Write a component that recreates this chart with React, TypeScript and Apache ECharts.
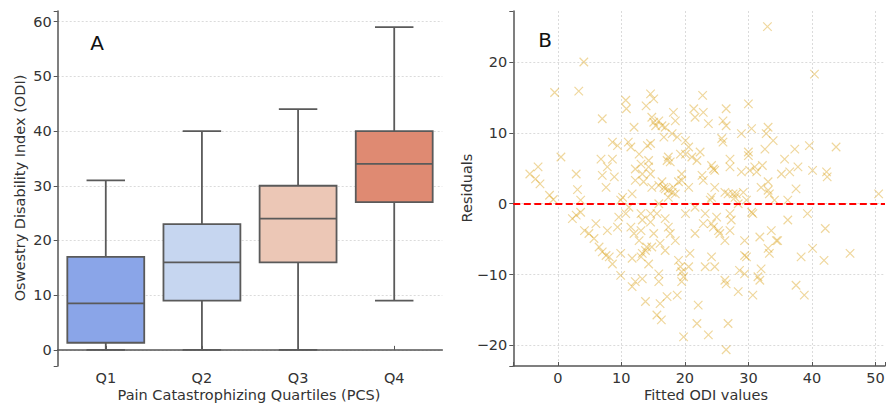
import React, { useEffect, useRef } from "react";
import * as echarts from "echarts";

// ---------- Panel A: box plot data ----------
const quartileLabels = ["Q1", "Q2", "Q3", "Q4"];
// [whiskerLow, q1, median, q3, whiskerHigh]
const boxQ1 = [0, 1.3, 8.5, 17, 31];
const boxQ2 = [0, 9, 16, 23, 40];
const boxQ3 = [0, 16, 24, 30, 44];
const boxQ4 = [9, 27, 34, 40, 59];
const boxColors = ["#8aa5e8", "#c6d6f0", "#ecc7b6", "#df8a72"];

// ---------- Panel B: residual scatter data [fitted, residual] ----------
const residualsBelow10 = [
  [-4.4, 4.2], [-3.5, 3.5], [-3.1, 5.2], [-2.8, 2.8], [-1.3, 1.2], [-0.7, 0.6], [-0.5, 15.7],
  [0.5, 6.6], [3.3, 15.9], [4.1, 20.0], [2.9, 4.2], [3.1, 2.0], [3.6, 0.5], [2.3, -2.1],
  [2.9, -1.6], [3.6, -1.2], [4.2, -3.8], [4.9, -4.2], [5.7, -4.9], [6.0, -2.8], [6.5, -6.1],
  [7.0, -6.8], [7.6, -7.3], [8.1, -7.5], [8.6, -8.5], [7.8, -3.8], [7.0, 12.0], [6.8, 6.3],
  [7.0, 4.0], [7.6, 2.3], [7.8, 5.2], [8.6, 8.7], [8.6, 6.3], [8.9, 3.8], [9.4, 8.2],
  [9.9, 0.5], [10.2, 0.9], [9.9, -7.0], [9.9, -10.1], [9.6, -1.9], [9.4, -3.3],
];
const residuals10to20 = [
  [10.7, 14.6], [10.8, 13.4], [11.1, 8.7], [11.5, 8.0], [12.0, 10.8], [11.7, 1.4], [12.2, 3.3],
  [12.2, 4.9], [11.2, -0.5], [10.7, -1.4], [11.5, -3.3], [12.0, -4.2], [11.7, -7.7], [11.7, -11.7],
  [12.2, -11.0], [12.8, 7.0], [13.1, 5.6], [13.3, 4.2], [13.5, 3.1], [13.1, -1.4], [13.3, -2.3],
  [13.1, -3.8], [12.8, -5.2], [13.3, -7.0], [13.1, -7.5], [13.8, -6.6], [14.0, -6.1], [13.8, -13.8],
  [13.3, -10.6], [13.9, 13.8], [14.6, 15.5], [15.1, 14.8], [14.1, 8.2], [14.6, 8.5], [14.3, 6.1],
  [14.3, 5.2], [14.6, 4.2], [14.8, 12.2], [15.1, 11.5], [15.4, 11.0], [14.8, 2.3], [14.6, -1.4],
  [14.6, -2.6], [15.1, -4.2], [14.8, -6.1], [14.3, -8.5], [15.9, 11.7], [16.4, 11.0], [16.7, 9.4],
  [15.9, 2.6], [16.4, 3.1], [16.7, 2.3], [15.9, 0.0], [15.6, -1.4], [16.1, -5.6], [15.9, -9.9],
  [15.9, -11.0], [15.6, -15.7], [16.3, -16.4], [16.1, -14.1], [17.2, -13.1], [16.9, 10.8],
  [17.4, 6.6], [17.2, 6.1], [17.7, 5.9], [16.9, 2.1], [17.4, 1.9], [17.4, 0.9], [16.9, -2.1],
  [17.4, -3.3], [17.7, -4.2], [16.9, -6.6], [18.0, 9.9], [18.2, 12.9], [18.5, 11.7], [18.8, 9.4],
  [18.2, 2.3], [18.5, 1.4], [18.0, 1.6], [19.0, 3.1], [18.5, -5.2], [19.0, -8.0], [18.8, -12.9],
  [19.3, -8.9], [19.5, 3.3], [19.5, 4.2], [19.5, -9.6], [19.8, -10.3], [19.5, -11.0], [19.8, -18.8],
  [20.1, 8.9], [20.1, -1.4], [20.1, 7.0], [19.3, 7.0],
];
const residuals20to30 = [
  [20.6, 8.0], [20.6, 2.3], [20.8, -7.0], [20.6, -8.9], [21.1, 6.6], [21.4, 13.4], [21.6, 12.2],
  [21.6, -4.2], [21.6, -0.5], [21.9, -16.9], [22.1, -14.3], [21.9, 6.1], [22.4, 7.3], [22.7, 4.0],
  [22.9, 3.3], [22.8, 15.3], [22.9, 12.9], [23.7, 11.3], [23.2, -1.4], [22.9, -2.8], [23.2, -8.9],
  [23.7, -18.5], [24.2, 5.4], [24.5, 4.9], [24.2, 0.9], [24.0, 0.5], [24.2, -2.8], [24.5, -3.3],
  [24.2, -7.5], [24.7, -8.9], [24.7, 2.3], [24.7, 4.7], [25.0, -1.9], [25.3, -3.8], [25.5, -4.2],
  [25.8, 9.2], [26.0, 8.7], [26.0, 11.7], [26.5, 13.4], [26.5, 11.0], [26.3, 1.6], [26.8, 1.4],
  [26.3, -5.2], [26.5, -11.3], [26.3, -10.8], [26.8, -16.9], [26.5, -20.6], [27.1, 6.3], [27.1, 5.2],
  [27.1, -1.4], [27.3, -2.3], [27.1, -3.8], [27.6, 1.4], [27.9, 0.9], [28.1, 1.4], [28.4, 0.0],
  [28.4, -12.4], [28.6, -9.4], [28.9, 4.5], [28.9, 9.9], [29.2, 1.6], [29.4, -5.2], [29.4, -7.3],
  [29.7, -7.5], [30.0, 14.1], [30.0, 7.3], [30.0, 6.8], [29.7, 0.5], [29.4, -9.9],
];
const residualsAbove30 = [
  [30.2, 4.7], [30.5, -1.2], [30.7, -1.4], [30.5, 10.6], [30.7, -12.9], [31.0, 5.2], [31.3, 4.5],
  [31.5, -10.3], [31.8, -10.8], [31.8, -4.7], [32.0, -9.2], [32.0, 2.3], [32.2, 5.4], [32.6, 7.7],
  [32.8, 9.9], [33.0, 25.0], [33.1, 10.8], [33.1, 3.1], [33.1, 1.9], [33.3, 1.4], [33.1, -6.3],
  [33.3, -7.0], [33.6, -3.8], [33.9, 8.9], [34.1, 0.5], [34.4, -5.2], [34.6, -5.2], [35.2, 4.2],
  [35.7, 6.3], [36.2, 0.5], [36.2, -2.3], [36.5, 4.5], [37.3, 7.7], [37.5, 2.1], [37.5, -11.5],
  [37.8, 5.2], [38.3, -7.5], [38.8, -12.9], [39.3, -1.4], [39.6, 8.2], [40.1, 4.7], [40.1, -6.3],
  [40.4, 18.3], [41.9, -8.0], [42.1, -3.5], [42.3, 4.5], [42.4, 3.8], [43.8, 8.0], [46.0, -7.0],
  [50.5, 1.4],
];

const FONT = "DejaVu Sans";
const AXIS_COLOR = "#555555";
const TEXT_COLOR = "#333333";
const EDGE = "#5a5a5a";
const GRID_LINE = "#d2d2d2";

const tenFormatter = (v: number) => {
  if (Math.abs(v - Math.round(v / 10) * 10) > 1e-6) return "";
  const r = Math.round(v);
  return r < 0 ? "\u2212" + Math.abs(r) : String(r);
};

const labelStyle = { color: TEXT_COLOR, fontSize: 14.5, fontFamily: FONT };

export default function App() {
  const ref = useRef<HTMLDivElement>(null);

  useEffect(() => {
    if (!ref.current) return;
    const chart = echarts.init(ref.current, null, { renderer: "svg" });
    const boxes = [boxQ1, boxQ2, boxQ3, boxQ4].map((b, i) => [i, ...b]);
    const scatterData = [
      ...residualsBelow10,
      ...residuals10to20,
      ...residuals20to30,
      ...residualsAbove30,
    ];

    const option: any = {
      animation: false,
      backgroundColor: "#ffffff",
      grid: [
        { left: 57.7, right: 888 - 442.3, top: 11, bottom: 39 },
        { left: 513.3, right: 0, top: 11, bottom: 39 },
      ],
      xAxis: [
        {
          gridIndex: 0,
          type: "category",
          data: quartileLabels,
          boundaryGap: true,
          axisLine: { show: true, lineStyle: { color: AXIS_COLOR, width: 1.5 } },
          axisTick: { show: true, alignWithLabel: true, inside: true, length: 4, lineStyle: { color: AXIS_COLOR } },
          axisLabel: { ...labelStyle, margin: 4 },
          splitLine: { show: false },
        },
        {
          gridIndex: 1,
          type: "value",
          min: -7,
          max: 51.5,
          axisLine: { show: true, onZero: false, lineStyle: { color: AXIS_COLOR, width: 1.5 } },
          axisTick: { show: true, inside: true, length: 4, lineStyle: { color: AXIS_COLOR } },
          axisLabel: { ...labelStyle, margin: 4, formatter: tenFormatter },
          splitLine: {
            show: true,
            showMinLine: false,
            showMaxLine: false,
            lineStyle: { color: GRID_LINE, type: [2, 2], width: 0.8 },
          },
        },
      ],
      yAxis: [
        {
          gridIndex: 0,
          type: "value",
          min: -2.95,
          max: 61.95,
          axisLine: { show: true, lineStyle: { color: AXIS_COLOR, width: 1.5 } },
          axisTick: { show: true, length: 4, lineStyle: { color: AXIS_COLOR } },
          axisLabel: { ...labelStyle, margin: 6, formatter: tenFormatter },
          splitLine: {
            show: true,
            showMinLine: false,
            showMaxLine: false,
            lineStyle: { color: GRID_LINE, type: [2, 2], width: 0.8 },
          },
        },
        {
          gridIndex: 1,
          type: "value",
          min: -22.9,
          max: 27.2,
          axisLine: { show: true, onZero: false, lineStyle: { color: AXIS_COLOR, width: 1.5 } },
          axisTick: { show: true, length: 4, lineStyle: { color: AXIS_COLOR } },
          axisLabel: { ...labelStyle, margin: 6, formatter: tenFormatter },
          splitLine: {
            show: true,
            showMinLine: false,
            showMaxLine: false,
            lineStyle: { color: GRID_LINE, type: [2, 2], width: 0.8 },
          },
        },
      ],
      series: [
        {
          type: "custom",
          xAxisIndex: 0,
          yAxisIndex: 0,
          data: boxes,
          encode: { x: 0, y: [1, 2, 3, 4, 5] },
          renderItem: (params: any, api: any) => {
            const idx = api.value(0);
            const pMin = api.coord([idx, api.value(1)]);
            const pQ1 = api.coord([idx, api.value(2)]);
            const pMed = api.coord([idx, api.value(3)]);
            const pQ3 = api.coord([idx, api.value(4)]);
            const pMax = api.coord([idx, api.value(5)]);
            const band = api.size([1, 0])[0];
            const bw = band * 0.8;
            const cw = band * 0.4;
            const cx = pMed[0];
            const st = { stroke: EDGE, lineWidth: 1.8, fill: "none" };
            return {
              type: "group",
              children: [
                { type: "line", shape: { x1: cx, y1: pMin[1], x2: cx, y2: pQ1[1] }, style: st },
                { type: "line", shape: { x1: cx, y1: pQ3[1], x2: cx, y2: pMax[1] }, style: st },
                { type: "line", shape: { x1: cx - cw / 2, y1: pMin[1], x2: cx + cw / 2, y2: pMin[1] }, style: st },
                { type: "line", shape: { x1: cx - cw / 2, y1: pMax[1], x2: cx + cw / 2, y2: pMax[1] }, style: st },
                {
                  type: "rect",
                  shape: { x: cx - bw / 2, y: pQ3[1], width: bw, height: pQ1[1] - pQ3[1] },
                  style: { fill: boxColors[params.dataIndex], stroke: EDGE, lineWidth: 1.8 },
                },
                { type: "line", shape: { x1: cx - bw / 2, y1: pMed[1], x2: cx + bw / 2, y2: pMed[1] }, style: st },
              ],
            };
          },
        },
        {
          type: "scatter",
          xAxisIndex: 1,
          yAxisIndex: 1,
          data: scatterData,
          symbol: "path://M0,0L10,10M10,0L0,10",
          symbolSize: 8.5,
          itemStyle: { color: "rgba(0,0,0,0)", borderColor: "rgba(218,165,32,0.55)", borderWidth: 1.2 },
          silent: true,
          markLine: {
            silent: true,
            symbol: "none",
            label: { show: false },
            data: [{ yAxis: 0 }],
            lineStyle: { color: "#ff0000", type: [7, 3.5], width: 2 },
          },
        },
      ],
      graphic: [
        { type: "text", x: 97, y: 43, style: { text: "A", fontSize: 20, fontFamily: FONT, fill: "#111", align: "center", verticalAlign: "middle" } },
        { type: "text", x: 545, y: 40, style: { text: "B", fontSize: 20, fontFamily: FONT, fill: "#111", align: "center", verticalAlign: "middle" } },
        {
          type: "text", x: 20, y: 188, rotation: Math.PI / 2,
          style: { text: "Oswestry Disability Index (ODI)", fontSize: 14.5, fontFamily: FONT, fill: TEXT_COLOR, align: "center", verticalAlign: "middle" },
        },
        {
          type: "text", x: 249, y: 395,
          style: { text: "Pain Catastrophizing Quartiles (PCS)", fontSize: 14.5, fontFamily: FONT, fill: TEXT_COLOR, align: "center", verticalAlign: "middle" },
        },
        {
          type: "text", x: 467, y: 188, rotation: Math.PI / 2,
          style: { text: "Residuals", fontSize: 14.5, fontFamily: FONT, fill: TEXT_COLOR, align: "center", verticalAlign: "middle" },
        },
        {
          type: "text", x: 706, y: 395,
          style: { text: "Fitted ODI values", fontSize: 14.5, fontFamily: FONT, fill: TEXT_COLOR, align: "center", verticalAlign: "middle" },
        },
      ],
    };

    chart.setOption(option);
    return () => chart.dispose();
  }, []);

  return (
    <div
      ref={ref}
      style={{ position: "absolute", left: 0, top: 0, width: 888, height: 405, background: "#fff" }}
    />
  );
}
